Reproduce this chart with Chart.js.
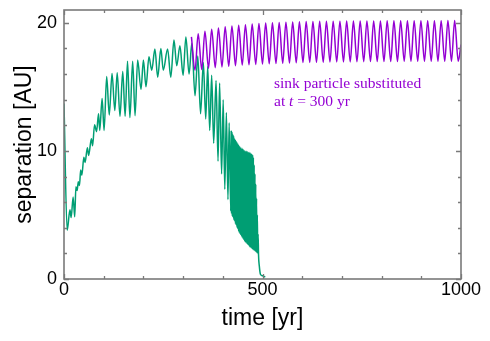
<!DOCTYPE html>
<html>
<head>
<meta charset="utf-8">
<script src="https://cdn.jsdelivr.net/npm/chart.js@4/dist/chart.umd.min.js"></script>
<style>
  html, body { margin: 0; padding: 0; background: #fff; }
  #wrap { width: 490px; height: 341px; }
</style>
</head>
<body>
<div id="wrap"><canvas id="c" width="490" height="341"></canvas></div>
<script>
// original run (green): separation, peaks and troughs
const gTime = [0, 8, 15, 18, 23, 27, 30, 33, 36, 39, 42, 45, 50, 53, 59, 62, 69, 72, 77, 82,
  87, 90, 96, 101, 107.5, 114, 121, 128, 134, 141, 148, 154, 160, 166, 173, 179, 185.5, 194, 200, 206.5,
  214, 221, 229, 236, 244, 250, 261, 269, 277, 284, 292, 300, 307, 315, 322, 330, 337, 344, 351, 357,
  362, 367, 372, 377, 383, 388, 392, 397, 401, 405, 409, 413, 416,
  420, 421, 422, 423, 424, 425, 426, 427, 428, 429, 430, 431, 432, 433, 434, 435, 436, 437, 438, 439,
  440, 441, 442, 443, 444, 445, 446, 447, 448, 449, 450, 451, 452, 453, 454, 455, 456, 457, 458, 459,
  460, 461, 462, 463, 464, 465, 466, 467, 468, 469, 470, 471, 472, 473, 474, 475, 476, 477, 478, 479,
  480, 481, 482, 483, 484, 485, 486, 487, 488, 489, 490, 492, 495, 500, 507];
const gSep = [13.7, 3.8, 5.4, 4.8, 6.4, 4.85, 7.2, 6.9, 7.6, 7.3, 8.5, 8.1, 9.5, 9.1, 10.25, 9.65, 10.95, 10.4, 12.05, 11.5,
  12.9, 11.6, 14.1, 11.6, 15.8, 12.8, 16.05, 13.15, 16.1, 12.7, 16.2, 12.7, 17.0, 12.6, 17.0, 12.75, 17.1, 14.8, 17.1, 15.0,
  17.35, 16.3, 17.95, 15.75, 18.0, 16.3, 17.95, 15.75, 18.65, 16.65, 18.2, 15.9, 18.9, 16.0, 18.4, 14.3, 17.4, 12.9, 16.9, 12.5,
  16.6, 11.6, 15.9, 10.6, 15.5, 9.2, 15.3, 8.2, 14.0, 7.0, 13.0, 6.2, 12.2,
  5.3, 11.6, 5.1, 11.5, 4.9, 11.3, 4.8, 11.2, 4.6, 11.0, 4.5, 10.9, 4.3, 10.8, 4.2, 10.7, 4.0, 10.6, 3.9, 10.5,
  3.7, 10.4, 3.6, 10.3, 3.5, 10.3, 3.4, 10.2, 3.3, 10.2, 3.2, 10.1, 3.1, 10.1, 3.0, 10.0, 2.9, 10.0, 2.85, 10.0,
  2.8, 9.95, 2.7, 9.95, 2.65, 9.9, 2.6, 9.9, 2.5, 9.85, 2.45, 9.8, 2.4, 9.75, 2.35, 9.7, 2.3, 9.5, 2.25, 8.9,
  2.2, 8.2, 2.15, 7.4, 2.1, 6.3, 2.05, 5.0, 2.0, 3.5, 1.9, 1.0, 0.35, 0.25, 0.15];

// sink particle run (purple), from t ~ 320 yr
const pTime = [321, 330, 338, 347, 355, 364, 372, 381, 389, 398, 406, 415, 423, 432, 440, 449, 457, 466, 474, 483,
  491, 500, 508, 517, 525, 534, 542, 551, 559, 568, 576, 585, 593, 602, 610, 619, 627, 636, 644, 653,
  661, 670, 678, 687, 695, 704, 712, 721, 729, 738, 746, 755, 763, 772, 780, 789, 797, 806, 814, 823,
  831, 840, 848, 857, 865, 874, 882, 891, 899, 908, 916, 925, 933, 942, 950, 959, 967, 976, 984, 993, 1000];
const pSep = [18.9, 16.3, 19.15, 16.35, 19.35, 16.45, 19.5, 16.5, 19.6, 16.55, 19.7, 16.6, 19.75, 16.65, 19.8, 16.7, 19.85, 16.72, 19.9, 16.75,
  19.95, 16.78, 19.98, 16.8, 20.0, 16.82, 20.02, 16.84, 20.05, 16.86, 20.06, 16.88, 20.08, 16.9, 20.1, 16.9, 20.1, 16.92, 20.12, 16.92,
  20.12, 16.94, 20.13, 16.94, 20.13, 16.95, 20.14, 16.95, 20.14, 16.96, 20.15, 16.96, 20.15, 16.97, 20.15, 16.97, 20.15, 16.98, 20.16, 16.98,
  20.16, 16.98, 20.16, 16.99, 20.16, 16.99, 20.17, 17.0, 20.17, 17.0, 20.17, 17.0, 20.17, 17.0, 20.17, 17.0, 20.18, 17.0, 20.18, 17.0, 18.3];

const xMajor = [0, 500, 1000];
const yMajor = [0, 10, 20];

const GREEN = '#009e73';
const PURPLE = '#9400d3';
const FRAME = '#7a7a7a';
const SANS = "'Liberation Sans', Arial, Helvetica, sans-serif";
const SERIF = "'Liberation Serif', 'Times New Roman', serif";

function toPoints(ts, vs) {
  return ts.map((t, i) => ({x: t, y: vs[i]}));
}

// gnuplot-style frame with inward ticks on all four sides
const framePlugin = {
  id: 'frame',
  afterDatasetsDraw(chart) {
    const {ctx, chartArea: a, scales: {x, y}} = chart;
    ctx.save();
    ctx.strokeStyle = FRAME;
    ctx.lineWidth = 1.3;
    ctx.beginPath();
    for (let v = 0; v <= 1000; v += 100) {
      const px = Math.round(x.getPixelForValue(v)) + 0.5;
      const len = xMajor.includes(v) ? 5 : 3;
      ctx.moveTo(px, a.bottom); ctx.lineTo(px, a.bottom - len);
      ctx.moveTo(px, a.top); ctx.lineTo(px, a.top + len);
    }
    for (let v = 0; v <= 20; v += 2) {
      const py = Math.round(y.getPixelForValue(v)) + 0.5;
      const len = yMajor.includes(v) ? 5 : 3;
      ctx.moveTo(a.left, py); ctx.lineTo(a.left + len, py);
      ctx.moveTo(a.right, py); ctx.lineTo(a.right - len, py);
    }
    ctx.stroke();
    ctx.lineWidth = 1.6;
    ctx.strokeRect(a.left, a.top, a.right - a.left, a.bottom - a.top);

    // annotation
    const size = '15.5px ';
    ctx.fillStyle = PURPLE;
    ctx.textBaseline = 'alphabetic';
    ctx.font = size + SERIF;
    const tx = 274;
    ctx.fillText('sink particle substituted', tx, 88);
    let cx = tx;
    ctx.fillText('at ', cx, 106); cx += ctx.measureText('at ').width;
    ctx.font = 'italic ' + size + SERIF;
    ctx.fillText('t', cx, 106); cx += ctx.measureText('t').width;
    ctx.font = size + SERIF;
    ctx.fillText(' = 300 yr', cx, 106);
    ctx.restore();
  }
};

new Chart(document.getElementById('c'), {
  type: 'line',
  data: {
    datasets: [
      {
        data: toPoints(pTime, pSep),
        borderColor: PURPLE,
        borderWidth: 1.5,
        pointRadius: 0,
        cubicInterpolationMode: 'monotone',
        fill: false
      },
      {
        data: toPoints(gTime, gSep),
        borderColor: GREEN,
        borderWidth: 1.5,
        pointRadius: 0,
        cubicInterpolationMode: 'monotone',
        fill: false
      }
    ]
  },
  options: {
    responsive: false,
    animation: false,
    events: [],
    layout: {padding: {top: 10, right: 29, left: 0, bottom: 0}},
    plugins: {legend: {display: false}, tooltip: {enabled: false}},
    scales: {
      x: {
        type: 'linear',
        min: 0,
        max: 1000,
        grid: {display: false, tickLength: 0},
        border: {display: false},
        ticks: {
          stepSize: 100,
          autoSkip: false,
          maxRotation: 0,
          padding: 0,
          color: '#000',
          font: {family: SANS, size: 18},
          callback: v => xMajor.includes(v) ? String(v) : ''
        },
        title: {
          display: true,
          text: 'time [yr]',
          color: '#000',
          font: {family: SANS, size: 23},
          padding: {top: 2, bottom: 9}
        },
        afterFit(scale) {
          scale.height = 62;
          scale.paddingLeft = 0;
          scale.paddingRight = 0;
        }
      },
      y: {
        type: 'linear',
        min: 0,
        max: 21,
        grid: {display: false, tickLength: 0},
        border: {display: false},
        ticks: {
          stepSize: 2,
          includeBounds: false,
          autoSkip: false,
          padding: 7,
          color: '#000',
          font: {family: SANS, size: 18},
          callback: v => yMajor.includes(v) ? String(v) : ''
        },
        title: {
          display: true,
          text: 'separation [AU]',
          color: '#000',
          font: {family: SANS, size: 23},
          padding: {top: 11, bottom: 4}
        },
        afterFit(scale) {
          scale.width = 64;
          scale.paddingTop = 0;
          scale.paddingBottom = 0;
        }
      }
    }
  },
  plugins: [framePlugin]
});
</script>
</body>
</html>
